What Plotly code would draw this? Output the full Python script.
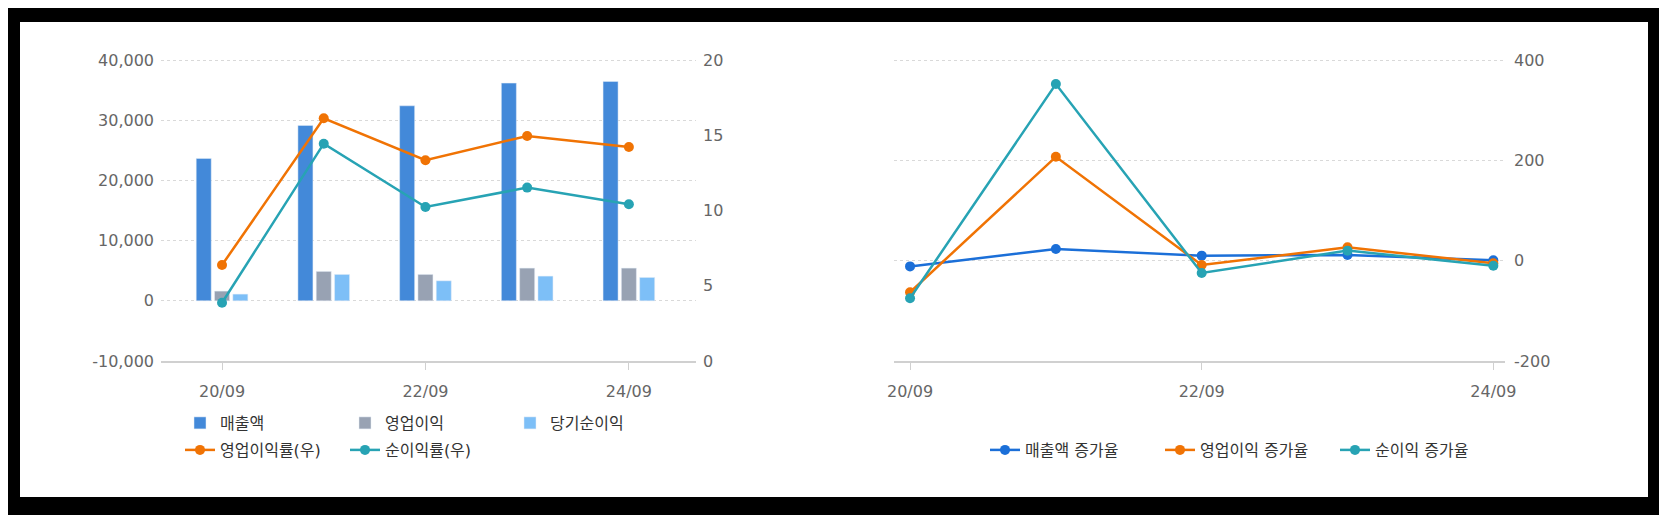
import plotly.graph_objects as go

# data
periods = ["20/09", "21/09", "22/09", "23/09", "24/09"]
revenue = [23650, 29130, 32390, 36160, 36440]
op_income = [1610, 4880, 4380, 5430, 5430]
net_income = [1110, 4380, 3320, 4100, 3880]
op_margin = [6.38, 16.13, 13.34, 14.95, 14.22]
net_margin = [3.87, 14.44, 10.23, 11.52, 10.41]

revenue_growth = [-11.4, 23.3, 10.0, 11.4, 0.8]
op_growth = [-63, 207, -8.6, 26.5, -5.3]
net_growth = [-75, 352, -24.6, 20, -10]

tick_periods = periods[::2]
amount_ticks = [-10000, 0, 10000, 20000, 30000, 40000]
amount_labels = ["-10,000", "0", "10,000", "20,000", "30,000", "40,000"]
margin_ticks = [0, 5, 10, 15, 20]
growth_ticks = [-200, 0, 200, 400]
growth_labels = ["-200", "0", "200", "400"]

W, H = 1667, 515
OFF = 8  # page body margin
FONT = "DejaVu Sans, Noto Sans CJK KR, sans-serif"
BLUE, GRAY, LIGHT = "#4389d9", "#98a2b3", "#7dbff7"
ORANGE, TEAL, BLUE2 = "#f07304", "#27a3b4", "#1b6fd8"

# stretch the top a little so plotly keeps the top gridline
PAD = 0.01


def px_x(p):
    return (p - OFF) / W


def px_y(p):
    return 1 - (p - OFF) / H


def padded(lo, hi):
    return [lo, hi + (hi - lo) * PAD]


fig = go.Figure()

#%% left chart: bars + margins
fig.add_trace(go.Bar(x=periods, y=revenue, name="매출액", marker_color=BLUE,
                     xaxis="x", yaxis="y", legend="legend"))
fig.add_trace(go.Bar(x=periods, y=op_income, name="영업이익", marker_color=GRAY,
                     xaxis="x", yaxis="y", legend="legend"))
fig.add_trace(go.Bar(x=periods, y=net_income, name="당기순이익", marker_color=LIGHT,
                     xaxis="x", yaxis="y", legend="legend"))
fig.add_trace(go.Scatter(x=periods, y=op_margin, name="영업이익률(우)", mode="lines+markers",
                         line=dict(color=ORANGE, width=2.5), marker=dict(size=10),
                         xaxis="x", yaxis="y2", legend="legend2"))
fig.add_trace(go.Scatter(x=periods, y=net_margin, name="순이익률(우)", mode="lines+markers",
                         line=dict(color=TEAL, width=2.5), marker=dict(size=10),
                         xaxis="x", yaxis="y2", legend="legend2"))

#%% right chart: growth rates
for vals, name, col in [(revenue_growth, "매출액 증가율", BLUE2),
                        (op_growth, "영업이익 증가율", ORANGE),
                        (net_growth, "순이익 증가율", TEAL)]:
    fig.add_trace(go.Scatter(x=periods, y=vals, name=name, mode="lines+markers",
                             line=dict(color=col, width=2.5), marker=dict(size=10),
                             xaxis="x2", yaxis="y3", legend="legend3"))

tick_font = dict(family=FONT, size=16, color="#666666")
grid = dict(showgrid=True, gridcolor="#d9d9d9", griddash="dot", gridwidth=1, zeroline=False)
xcommon = dict(type="category", tickvals=tick_periods, ticks="outside", ticklen=7,
               tickcolor="#d0d0d0", showline=True, linecolor="#d0d0d0", linewidth=1.5,
               showgrid=False, tickfont=tick_font, ticklabelstandoff=8)

top = 60 - (361 - 60) * PAD
y_dom = [px_y(361), px_y(top)]
legend_common = dict(orientation="h", xref="paper", yref="paper",
                     yanchor="middle", xanchor="left", bgcolor="rgba(0,0,0,0)",
                     font=dict(family=FONT, size=16, color="#333333"))

fig.update_layout(
    width=W, height=H,
    margin=dict(l=0, r=0, t=0, b=0, autoexpand=False),
    paper_bgcolor="black", plot_bgcolor="rgba(0,0,0,0)",
    barmode="group", bargap=0.46, bargroupgap=0.18,
    font=dict(family=FONT, size=16, color="#666666"),
    xaxis=dict(domain=[px_x(161), px_x(696)], anchor="y", range=[-0.6, 4.66], **xcommon),
    yaxis=dict(domain=y_dom, anchor="x", range=padded(-10000, 40000),
               tickvals=amount_ticks, ticktext=amount_labels,
               tickfont=tick_font, ticks="", ticklabelstandoff=6, **grid),
    yaxis2=dict(overlaying="y", side="right", anchor="x", range=padded(0, 20),
                tickvals=margin_ticks,
                showgrid=False, zeroline=False, tickfont=tick_font, ticklabelstandoff=6),
    xaxis2=dict(domain=[px_x(894), px_x(1505)], anchor="y3", range=[-0.11, 4.08], **xcommon),
    yaxis3=dict(domain=y_dom, anchor="x2", side="right", range=padded(-200, 400),
                tickvals=growth_ticks, ticktext=growth_labels,
                tickfont=tick_font, ticks="", ticklabelstandoff=8, **grid),
    legend=dict(x=px_x(180), y=px_y(423), entrywidth=120, **legend_common),
    legend2=dict(x=px_x(180), y=px_y(450), entrywidth=120, **legend_common),
    legend3=dict(x=px_x(985), y=px_y(450), entrywidth=130, **legend_common),
    shapes=[dict(type="rect", xref="paper", yref="paper", x0=px_x(20), x1=px_x(1648),
                 y0=px_y(497), y1=px_y(22), fillcolor="white", line_width=0,
                 layer="below")],
    hovermode=False,
)

fig.write_html("out.html", config={"displayModeBar": False})
